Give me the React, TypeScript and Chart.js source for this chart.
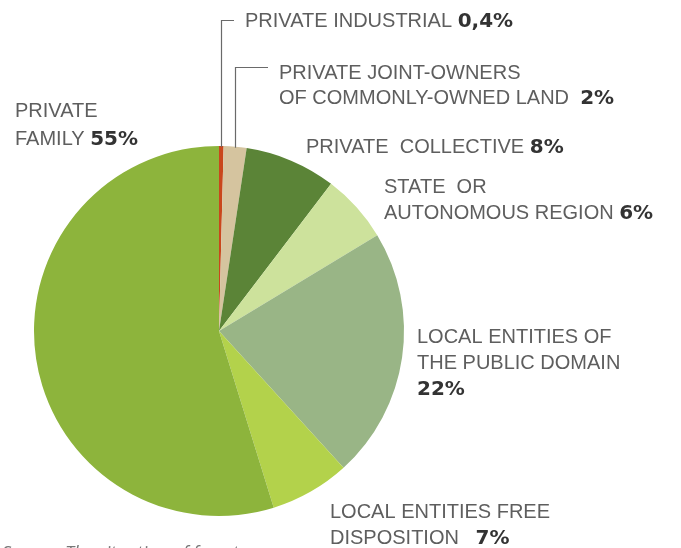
import React, { useEffect, useRef } from "react";
import { Chart, registerables } from "chart.js";

Chart.register(...registerables);

// ---------- DATA ----------
const categories = [
  "PRIVATE INDUSTRIAL",
  "PRIVATE JOINT-OWNERS OF COMMONLY-OWNED LAND",
  "PRIVATE COLLECTIVE",
  "STATE OR AUTONOMOUS REGION",
  "LOCAL ENTITIES OF THE PUBLIC DOMAIN",
  "LOCAL ENTITIES FREE DISPOSITION",
  "PRIVATE FAMILY",
];
const shares = [0.4, 2, 8, 6, 22, 7, 55];
const shareLabels = ["0,4%", "2%", "8%", "6%", "22%", "7%", "55%"];
const labelLines = [
  ["PRIVATE INDUSTRIAL "],
  ["PRIVATE JOINT-OWNERS", "OF COMMONLY-OWNED LAND  "],
  ["PRIVATE  COLLECTIVE "],
  ["STATE  OR", "AUTONOMOUS REGION "],
  ["LOCAL ENTITIES OF", "THE PUBLIC DOMAIN", ""],
  ["LOCAL ENTITIES FREE", "DISPOSITION   "],
  ["PRIVATE", "FAMILY "],
];
const sourceText = "Source: The situation of forests";

// ---------- STYLE / LAYOUT ----------
const colors = ["#c9471c", "#d5c49f", "#5b8437", "#cde29c", "#99b586", "#b3d24b", "#8db43c"];
const labelLayout = [
  { x: 245, y: 27, lh: 26 },
  { x: 279, y: 79, lh: 25 },
  { x: 306, y: 153, lh: 26 },
  { x: 384, y: 193, lh: 26 },
  { x: 417, y: 343, lh: 26 },
  { x: 330, y: 518, lh: 26 },
  { x: 15, y: 117, lh: 28 },
];
const leaders: Record<number, { elbowY: number; endX: number }> = {
  0: { elbowY: 20, endX: 234 },
  1: { elbowY: 67, endX: 268 },
};
const W = 681;
const H = 548;
const LIGHT_FONT = "20px 'Liberation Sans', Arial, sans-serif";
const BOLD_FONT = "bold 20px 'DejaVu Sans', sans-serif";

const labelPlugin = {
  id: "pieLabels",
  afterDraw(chart: any) {
    const ctx = chart.ctx as CanvasRenderingContext2D;
    const meta = chart.getDatasetMeta(0);
    ctx.save();
    // leader lines
    ctx.strokeStyle = "#6a6a6a";
    ctx.lineWidth = 1.2;
    Object.keys(leaders).forEach((k) => {
      const i = Number(k);
      const arc = meta.data[i];
      const p = arc.getProps(["x", "y", "startAngle", "endAngle", "outerRadius"], true);
      const mid = (p.startAngle + p.endAngle) / 2;
      const px = p.x + Math.cos(mid) * p.outerRadius;
      const py = p.y + Math.sin(mid) * p.outerRadius;
      const L = leaders[i];
      ctx.beginPath();
      ctx.moveTo(Math.round(px) + 0.5, py + 1);
      ctx.lineTo(Math.round(px) + 0.5, L.elbowY + 0.5);
      ctx.lineTo(L.endX, L.elbowY + 0.5);
      ctx.stroke();
    });
    // text
    ctx.textBaseline = "alphabetic";
    ctx.textAlign = "left";
    labelLines.forEach((lines, i) => {
      const lay = labelLayout[i];
      lines.forEach((line, j) => {
        const y = lay.y + j * lay.lh;
        ctx.font = LIGHT_FONT;
        ctx.fillStyle = "#5e5e5e";
        ctx.fillText(line, lay.x, y);
        if (j === lines.length - 1) {
          const w = ctx.measureText(line).width;
          ctx.font = BOLD_FONT;
          ctx.fillStyle = "#333333";
          ctx.fillText(shareLabels[i], lay.x + w, y);
        }
      });
    });
    // source note (cut off at bottom)
    ctx.font = "italic 18px 'Open Sans', sans-serif";
    ctx.fillStyle = "#777777";
    ctx.fillText(sourceText, 2, 559);
    ctx.restore();
  },
};

export default function App() {
  const ref = useRef<HTMLCanvasElement | null>(null);
  useEffect(() => {
    if (!ref.current) return;
    const chart = new Chart(ref.current, {
      type: "pie",
      data: {
        labels: categories,
        datasets: [
          {
            data: shares,
            backgroundColor: colors,
            borderWidth: 0,
          },
        ],
      },
      options: {
        responsive: false,
        animation: false,
        events: [],
        layout: { padding: { left: 34, top: 146, right: W - 34 - 370, bottom: H - 146 - 370 } },
        plugins: {
          legend: { display: false },
          tooltip: { enabled: false },
        },
      },
      plugins: [labelPlugin],
    });
    return () => chart.destroy();
  }, []);
  return (
    <div style={{ position: "fixed", left: 0, top: 0, width: W, height: H, background: "#fff" }}>
      <canvas ref={ref} width={W} height={H} style={{ display: "block", width: W, height: H }} />
    </div>
  );
}
